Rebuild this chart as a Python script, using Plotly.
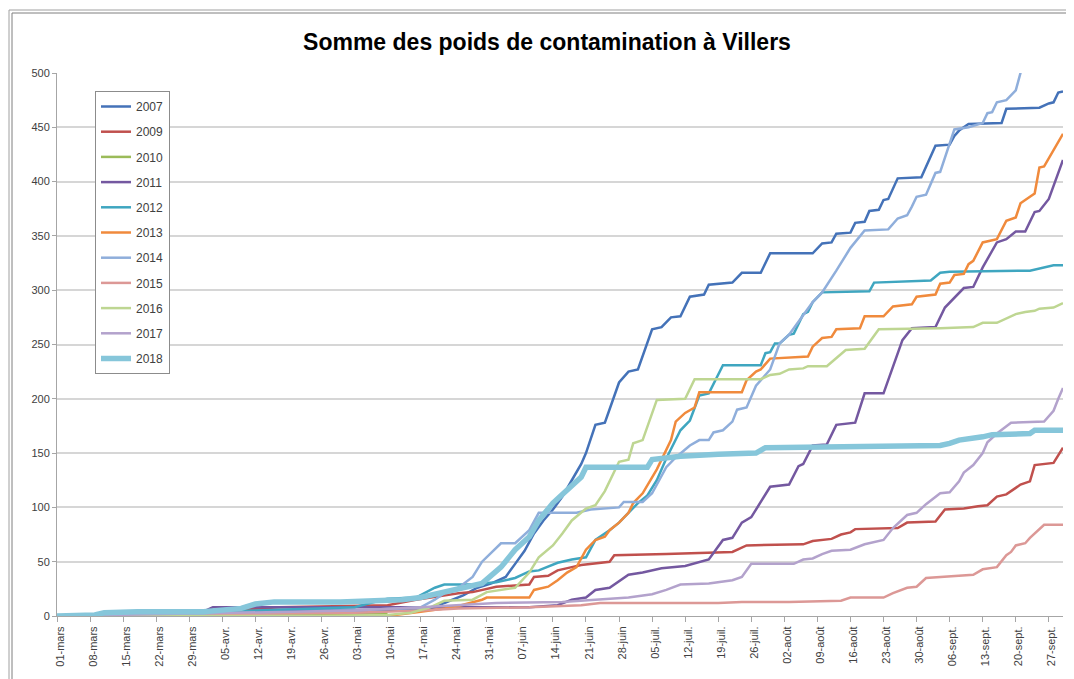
import plotly.graph_objects as go

# ---------------- DATA ----------------
# x = jour depuis le 1er mars (0 = 01-mars)
tick_days = [0, 7, 14, 21, 28, 35, 42, 49, 56, 63, 70, 77, 84, 91, 98, 105, 112, 119,
             126, 133, 140, 147, 154, 161, 168, 175, 182, 189, 196, 203, 210]
tick_labels = ["01-mars", "08-mars", "15-mars", "22-mars", "29-mars", "05-avr.", "12-avr.",
               "19-avr.", "26-avr.", "03-mai", "10-mai", "17-mai", "24-mai", "31-mai",
               "07-juin", "14-juin", "21-juin", "28-juin", "05-juil.", "12-juil.", "19-juil.",
               "26-juil.", "02-août", "09-août", "16-août", "23-août", "30-août", "06-sept.",
               "13-sept.", "20-sept.", "27-sept."]

jours_2007 = [0, 7, 12, 16, 35, 45, 70, 77, 80, 82, 86, 89, 92, 95, 97, 99, 101, 103, 105, 107,
              109, 111, 112, 113, 114, 116, 119, 121, 123, 126, 128, 130, 132, 134, 137, 138, 143,
              145, 149, 151, 160, 162, 164, 165, 168, 169, 171, 172, 174, 175, 176, 178, 183, 186,
              189, 190, 191, 193, 200, 201, 208, 210, 211, 212, 213]
cumul_2007 = [0, 0, 2, 3, 4, 5, 5, 5, 8, 12, 19, 26, 30, 36, 48, 60, 76, 88, 98, 110,
              125, 140, 150, 162, 176, 178, 215, 225, 227, 264, 266, 275, 276, 294, 296, 305, 307,
              316, 316, 334, 334, 343, 344, 352, 353, 362, 363, 373, 374, 383, 384, 403, 404, 433,
              434, 442, 447, 453, 454, 467, 468, 472, 473, 482, 483]

jours_2009 = [0, 7, 14, 35, 47, 70, 76, 79, 81, 85, 88, 90, 93, 100, 101, 104, 106, 109, 111, 117,
              118, 129, 136, 143, 146, 158, 160, 164, 166, 168, 169, 178, 180, 186, 188, 192, 195,
              197, 199, 201, 203, 204, 206, 207, 211, 213]
cumul_2009 = [0, 1, 3, 5, 8, 10, 15, 17, 19, 21, 22, 24, 27, 29, 36, 37, 42, 45, 47, 50,
              56, 57, 58, 59, 65, 66, 69, 71, 75, 77, 80, 81, 86, 87, 98, 99, 101,
              102, 110, 112, 118, 121, 124, 139, 141, 155]

jours_2010 = [0, 14, 35, 70]
cumul_2010 = [0, 1, 2, 2]

jours_2011 = [0, 30, 31, 33, 86, 100, 106, 109, 112, 114, 117, 121, 124, 128, 133, 136, 138, 141,
              143, 145, 147, 151, 155, 157, 158, 160, 163, 165, 169, 171, 175, 179, 181, 186, 188,
              192, 194, 196, 199, 201, 203, 205, 207, 208, 210, 213]
cumul_2011 = [0, 0, 4, 8, 8, 8, 10, 15, 17, 24, 26, 38, 40, 44, 46, 50, 52, 70,
              72, 86, 91, 119, 121, 138, 140, 157, 158, 176, 178, 205, 205, 254, 265, 266, 284,
              302, 303, 321, 344, 347, 354, 354, 372, 373, 384, 420]

jours_2012 = [0, 7, 14, 42, 59, 63, 69, 70, 76, 80, 82, 88, 90, 93, 97, 100, 102, 106, 109, 112,
              114, 115, 117, 119, 121, 123, 125, 127, 129, 131, 132, 134, 136, 138, 141, 149, 150,
              151, 152, 153, 155, 156, 158, 159, 160, 162, 172, 173, 185, 187, 189, 206, 208, 211, 213]
cumul_2012 = [0, 1, 2, 5, 7, 8, 15, 16, 17, 26, 29, 29, 30, 31, 35, 41, 42, 49, 52, 54,
              70, 73, 79, 86, 95, 104, 111, 125, 145, 162, 171, 180, 203, 205, 231, 231, 242,
              243, 251, 251, 259, 260, 278, 280, 289, 298, 299, 307, 309, 316, 317, 318, 320, 323, 323]

jours_2013 = [56, 70, 77, 84, 90, 91, 100, 101, 104, 106, 108, 110, 112, 114, 116, 117, 119, 121,
              122, 124, 127, 130, 131, 133, 135, 136, 145, 146, 148, 149, 151, 159, 160, 162, 164,
              165, 170, 171, 175, 177, 181, 182, 186, 187, 189, 190, 192, 193, 194, 196, 199, 201,
              203, 204, 206, 207, 208, 209, 213]
cumul_2013 = [0, 0, 4, 8, 15, 17, 17, 24, 27, 33, 40, 45, 61, 70, 73, 79, 86, 95,
              104, 113, 135, 162, 179, 187, 192, 206, 206, 217, 225, 227, 237, 239, 248, 256, 257,
              264, 265, 276, 276, 285, 287, 294, 296, 306, 307, 314, 315, 324, 327, 344, 347, 364,
              367, 380, 386, 389, 413, 414, 444]

jours_2014 = [0, 14, 40, 63, 77, 80, 82, 85, 88, 90, 94, 97, 100, 102, 110, 113, 119, 120, 124,
              126, 129, 131, 134, 136, 138, 139, 141, 143, 144, 146, 148, 151, 153, 155, 160, 162,
              165, 168, 171, 176, 178, 180, 181, 182, 184, 186, 187, 189, 190, 193, 196, 197, 198,
              199, 201, 203, 204, 205]
cumul_2014 = [0, 1, 2, 5, 8, 15, 21, 26, 36, 50, 67, 67, 79, 95, 95, 98, 100, 105, 105,
              113, 137, 146, 157, 162, 162, 169, 171, 179, 190, 192, 212, 227, 251, 259, 289, 298,
              318, 339, 355, 356, 366, 369, 377, 386, 388, 408, 409, 434, 448, 450, 454, 463, 464,
              473, 475, 484, 500, 530]

jours_2015 = [0, 30, 42, 63, 77, 85, 100, 111, 115, 140, 145, 155, 166, 168, 175, 177, 180, 182,
              184, 187, 194, 196, 199, 201, 202, 203, 205, 206, 207, 209, 213]
cumul_2015 = [0, 0, 2, 3, 5, 7, 8, 10, 12, 12, 13, 13, 14, 17, 17, 21, 26, 27,
              35, 36, 38, 43, 45, 56, 59, 65, 67, 72, 76, 84, 84]

jours_2016 = [0, 56, 70, 75, 79, 82, 88, 91, 97, 100, 102, 105, 107, 109, 112, 114, 116, 118, 119,
              121, 122, 124, 127, 133, 135, 149, 151, 153, 155, 158, 159, 163, 167, 171, 174, 187,
              194, 196, 199, 203, 205, 207, 208, 211, 213]
cumul_2016 = [0, 0, 1, 3, 8, 14, 15, 22, 26, 40, 54, 65, 76, 88, 99, 102, 115, 134, 142,
              144, 159, 162, 199, 200, 218, 218, 222, 223, 227, 228, 230, 230, 245, 246, 264, 265,
              266, 270, 270, 278, 280, 281, 283, 284, 288]

jours_2017 = [0, 14, 35, 63, 77, 86, 93, 107, 121, 126, 129, 132, 138, 143, 145, 147, 156, 158,
              160, 162, 164, 168, 171, 175, 177, 180, 182, 184, 187, 189, 191, 192, 194, 196, 197,
              199, 202, 209, 211, 212, 213]
cumul_2017 = [0, 1, 3, 5, 8, 10, 12, 13, 17, 20, 24, 29, 30, 33, 36, 48, 48, 52,
              53, 57, 60, 61, 66, 70, 81, 93, 95, 103, 113, 114, 124, 132, 139, 150, 160,
              168, 178, 179, 189, 200, 210]

jours_2018 = [0, 8, 10, 17, 31, 39, 42, 46, 60, 68, 73, 77, 80, 85, 90, 94, 97, 100, 102, 105,
              108, 111, 112, 125, 126, 132, 140, 148, 150, 182, 187, 189, 191, 196, 198, 206, 207, 213]
cumul_2018 = [0, 1, 3, 4, 4, 7, 11, 13, 13, 14, 15, 17, 20, 24, 30, 45, 61, 73, 88, 104,
              116, 128, 137, 137, 144, 147, 149, 150, 155, 156, 157, 159, 162, 165, 167, 168, 171, 171]

annees = ["2007", "2009", "2010", "2011", "2012", "2013", "2014", "2015", "2016", "2017", "2018"]
jours = [jours_2007, jours_2009, jours_2010, jours_2011, jours_2012, jours_2013,
         jours_2014, jours_2015, jours_2016, jours_2017, jours_2018]
cumuls = [cumul_2007, cumul_2009, cumul_2010, cumul_2011, cumul_2012, cumul_2013,
          cumul_2014, cumul_2015, cumul_2016, cumul_2017, cumul_2018]

# ---------------- STYLE ----------------
couleurs = ["#4472B8", "#C0504D", "#9BBB59", "#7458A0", "#3FA6C0", "#F08A3C",
            "#8FAEDB", "#DC9896", "#BED692", "#B3A2CC", "#86C6DA"]
epaisseurs = [2.5, 2.5, 2.5, 2.5, 2.5, 2.5, 2.5, 2.5, 2.5, 2.5, 5.5]

W, H = 1074, 679
OFF = 8  # page body margin
# target plot area in page pixels: x 57..1063, y 73..616
PL, PR, PT, PB = 57, 1063, 73, 616
ml, mr, mt, mb = PL - OFF, W + OFF - PR, PT - OFF, H + OFF - PB


def px_x(px):
    return (px - PL) / (PR - PL)


def px_y(py):
    return (PB - py) / (PB - PT)


FONT = "Liberation Sans, Arial, sans-serif"

fig = go.Figure()
for an, x, y, c, w in zip(annees, jours, cumuls, couleurs, epaisseurs):
    fig.add_trace(go.Scatter(x=x, y=y, mode="lines", name=an, legendgroup=an,
                             line=dict(color=c, width=w)))

fig.update_layout(
    width=W, height=H,
    margin=dict(l=ml, r=mr, t=mt, b=mb, autoexpand=False),
    paper_bgcolor="white", plot_bgcolor="white",
    font=dict(family=FONT, size=11, color="#404040"),
    title=dict(text="<b>Somme des poids de contamination à Villers</b>",
               x=(547 - OFF) / W, xanchor="center", y=1 - (42 - OFF) / H, yanchor="middle",
               font=dict(family=FONT, size=23, color="#000000")),
    showlegend=True,
    legend=dict(x=px_x(95), y=px_y(91), xanchor="left", yanchor="top",
                bgcolor="white", bordercolor="#8C8C8C", borderwidth=1,
                font=dict(family=FONT, size=12, color="#404040"),
                itemwidth=30, tracegroupgap=6.2, traceorder="grouped"),
    xaxis=dict(range=[0, 213], tickmode="array", tickvals=tick_days, ticktext=tick_labels,
               tickangle=-90, showgrid=False, zeroline=False, ticklabelshift=3,
               showline=True, linecolor="#A6A6A6", linewidth=1,
               ticks="outside", ticklen=5, tickcolor="#A6A6A6",
               tickfont=dict(family=FONT, size=11, color="#404040")),
    yaxis=dict(range=[0, 500], tickmode="array", tickvals=list(range(0, 501, 50)),
               showgrid=True, gridcolor="#D6D6D6", gridwidth=1.5, zeroline=False,
               showline=True, linecolor="#A6A6A6", linewidth=1,
               ticks="outside", ticklen=4, tickcolor="#A6A6A6",
               tickfont=dict(family=FONT, size=11, color="#404040")),
    shapes=[
        dict(type="rect", xref="paper", yref="paper",
             x0=px_x(9), x1=px_x(1100), y0=px_y(720), y1=px_y(10),
             line=dict(color="#A0A0A0", width=1), fillcolor="rgba(0,0,0,0)", layer="below"),
        dict(type="rect", xref="paper", yref="paper",
             x0=px_x(12), x1=px_x(1100), y0=px_y(720), y1=px_y(13),
             line=dict(color="#7F7F7F", width=1), fillcolor="rgba(0,0,0,0)", layer="below"),
    ],
)

fig.write_html("out.html")
